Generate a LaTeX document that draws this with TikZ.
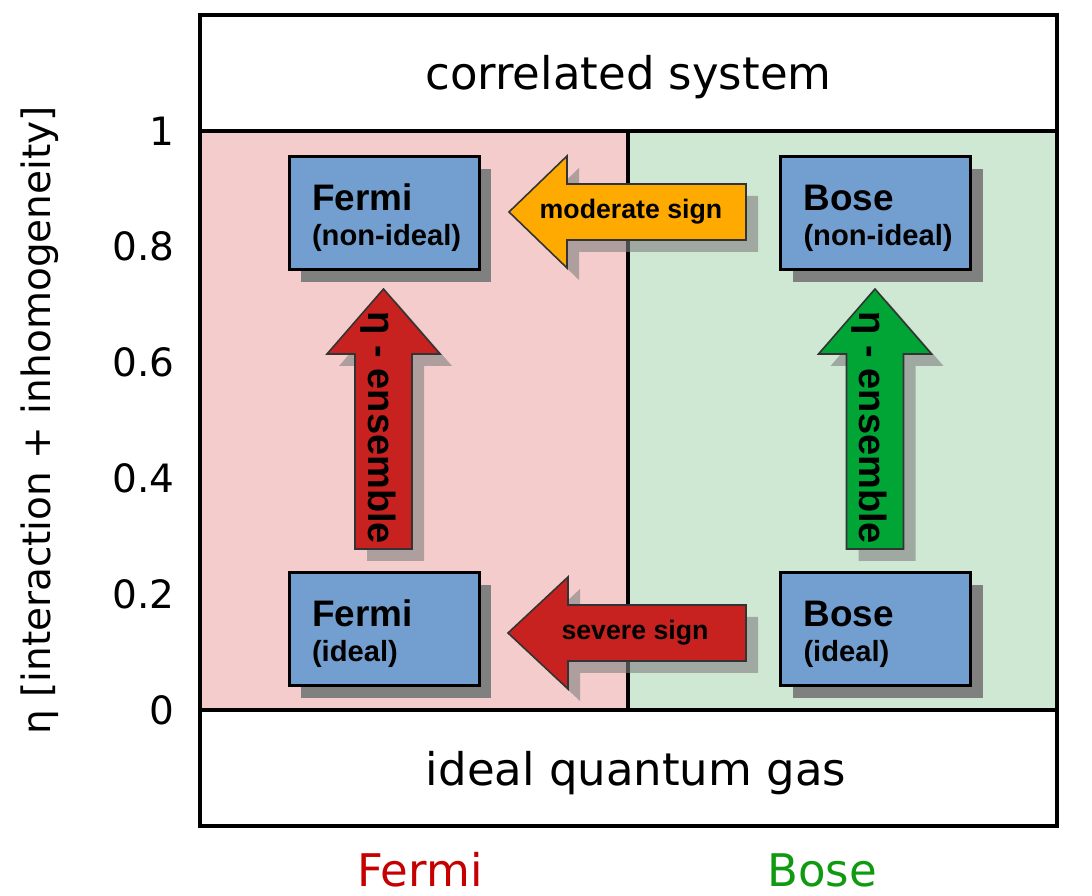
\documentclass[tikz,border=0pt]{standalone}
\usepackage{fontspec}
\setmainfont{DejaVu Sans}
\newfontfamily\boxfont{Liberation Sans}
\usepackage{tikz}
\usetikzlibrary{shadows}

\definecolor{fermibg}{HTML}{F4CCCC}
\definecolor{bosebg}{HTML}{CFE8D3}
\definecolor{boxblue}{HTML}{729FCF}
\definecolor{signorange}{HTML}{FFAA00}
\definecolor{fermired}{HTML}{C82220}
\definecolor{bosegreen}{HTML}{00A535}
\definecolor{fermilabel}{HTML}{C40000}
\definecolor{boselabel}{HTML}{109A10}

\begin{document}
\begin{tikzpicture}[
		frame/.style = {line width = 1.3pt},
		bandtext/.style = {anchor = base, font = \fontsize{12.8}{15}\selectfont},
		ticklabel/.style = {anchor = east, inner sep = 0pt, font = \fontsize{11.1}{13}\selectfont},
		sysbox/.style = {draw, line width = 0.85pt, fill = boxblue, minimum width = 1.9cm, minimum height = 1.13cm,
			text width = 1.44cm, inner xsep = 0.23cm, inner ysep = 0pt, align = left,
			font = \boxfont\bfseries\fontsize{10.5}{10.2}\selectfont,
			drop shadow = {shadow xshift = 0.12cm, shadow yshift = -0.12cm, fill = black!50, opacity = 1}},
		bigarrow/.style = {draw = black!80, line width = 0.45pt,
			drop shadow = {shadow xshift = 0.12cm, shadow yshift = -0.12cm, fill = black!50, opacity = 0.6}},
		signtext/.style = {font = \boxfont\bfseries\fontsize{7.6}{9}\selectfont},
		enstext/.style = {rotate = -90, anchor = base, font = \boxfont\bfseries\fontsize{10.8}{12}\selectfont}
	]
	\useasboundingbox (0, 0) rectangle (10.92, 8.96);

	% regions
	\fill[fermibg] (2.00, 1.86) rectangle (6.28, 7.65);
	\fill[bosebg] (6.28, 1.86) rectangle (10.57, 7.65);
	\draw[frame] (2.00, 0.70) rectangle (10.57, 8.81);
	\draw[frame] (2.00, 7.65) -- (10.57, 7.65);
	\draw[frame] (2.00, 1.86) -- (10.57, 1.86);
	\draw[frame] (6.28, 1.86) -- (6.28, 7.65);

	\node[bandtext] (corr) at (6.285, 8.06) {correlated system};
	\node[bandtext] (idealgas) at (6.36, 1.105) {ideal quantum gas};

	% axis
	\node[ticklabel] (t0) at (1.75, 1.86) {0};
	\node[ticklabel] (t2) at (1.75, 3.018) {0.2};
	\node[ticklabel] (t4) at (1.75, 4.176) {0.4};
	\node[ticklabel] (t6) at (1.75, 5.334) {0.6};
	\node[ticklabel] (t8) at (1.75, 6.492) {0.8};
	\node[ticklabel] (t10) at (1.75, 7.65) {1};
	\node[rotate = 90, font = \fontsize{11.1}{13}\selectfont] (etaaxis) at (0.40, 4.755) {η [interaction + inhomogeneity]};

	\node[bandtext, text = fermilabel] (fermilab) at (4.20, 0.09) {Fermi};
	\node[bandtext, text = boselabel] (boselab) at (8.22, 0.09) {Bose};

	% systems
	\node[sysbox] (fermiN) at (3.84, 6.825) {\rule{0pt}{10pt}Fermi\\{\fontsize{8.3}{10.2}\selectfont\mbox{(non-ideal)}}};
	\node[sysbox] (boseN) at (8.755, 6.825) {\rule{0pt}{10pt}Bose\\{\fontsize{8.3}{10.2}\selectfont\mbox{(non-ideal)}}};
	\node[sysbox] (fermiI) at (3.84, 2.665) {\rule{0pt}{10pt}Fermi\\{\fontsize{8.3}{10.2}\selectfont(ideal)}};
	\node[sysbox] (boseI) at (8.755, 2.665) {\rule{0pt}{10pt}Bose\\{\fontsize{8.3}{10.2}\selectfont(ideal)}};

	% sign arrows
	\draw[bigarrow, fill = signorange] (5.09, 6.84) -- (5.67, 7.40) -- (5.67, 7.12) -- (7.46, 7.12)
		-- (7.46, 6.56) -- (5.67, 6.56) -- (5.67, 6.28) -- cycle;
	\node[signtext] (modsign) at (6.31, 6.84) {moderate sign};
	\draw[bigarrow, fill = fermired] (5.08, 2.63) -- (5.68, 3.19) -- (5.68, 2.91) -- (7.46, 2.91)
		-- (7.46, 2.35) -- (5.68, 2.35) -- (5.68, 2.07) -- cycle;
	\node[signtext] (sevsign) at (6.35, 2.63) {severe sign};

	% ensemble arrows
	\draw[bigarrow, fill = fermired] (3.835, 6.07) -- (4.40, 5.42) -- (4.12, 5.42) -- (4.12, 3.47)
		-- (3.55, 3.47) -- (3.55, 5.42) -- (3.27, 5.42) -- cycle;
	\node[enstext] (fermiens) at (3.68, 4.68) {η - ensemble};
	\draw[bigarrow, fill = bosegreen] (8.75, 6.07) -- (9.315, 5.42) -- (9.035, 5.42) -- (9.035, 3.47)
		-- (8.465, 3.47) -- (8.465, 5.42) -- (8.185, 5.42) -- cycle;
	\node[enstext] (boseens) at (8.595, 4.68) {η - ensemble};
\end{tikzpicture}
\end{document}
